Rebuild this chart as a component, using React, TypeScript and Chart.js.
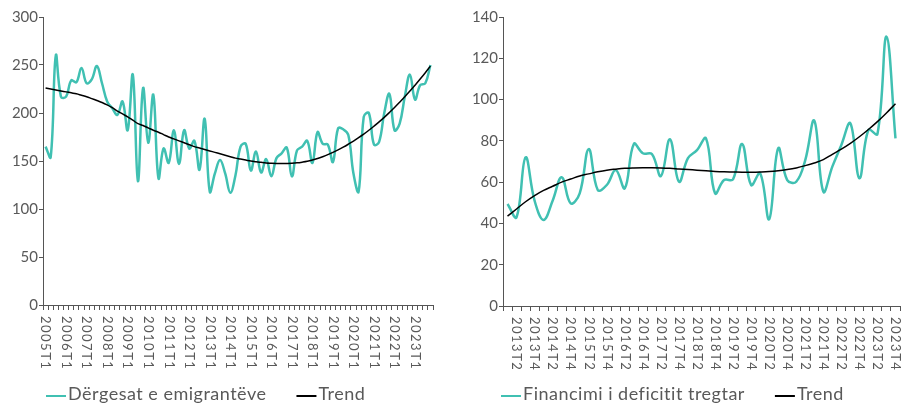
import React, { useEffect, useRef } from 'react';
import { Chart, registerables } from 'chart.js';
Chart.register(...registerables);

const TEAL = '#40c0b2';
const TEXT = '#595959';
const AXIS = '#555555';
const FONT = 'Lato';

// ---- Left chart data ----
const leftYears = [2005, 2006, 2007, 2008, 2009, 2010, 2011, 2012, 2013, 2014, 2015, 2016, 2017, 2018, 2019, 2020, 2021, 2022, 2023];
const leftQuarters = ['T1', 'T2', 'T3', 'T4'];
const leftLabels: string[] = [];
leftYears.forEach((y) => leftQuarters.forEach((q) => leftLabels.push(`${y}${q}`)));

const remittances = [
  165, 154, 260, 217, 217, 234, 232, 247, 231, 235,
  249, 231, 212, 205, 198, 212, 182, 240, 129, 226,
  169, 219, 132, 163, 148, 182, 147, 182, 163, 171,
  141, 194, 118, 137, 151, 137, 117, 135, 165, 168,
  140, 160, 138, 152, 134, 153, 158, 164, 134, 161,
  165, 171, 148, 180, 168, 167, 149, 184, 183, 177,
  137, 118, 196, 200, 167, 170, 200, 220, 182, 189,
  217, 240, 214, 229, 231, 250,
];
const remittancesTrend = [
  226, 225, 224, 223, 222, 221, 220, 218.5, 217, 215,
  213, 211, 208.5, 205.5, 202, 199, 196, 192.5, 189, 187,
  184.5, 182, 180, 177.5, 175, 173, 171, 169, 167, 165,
  163.5, 162, 160.5, 159, 157.5, 156, 154.5, 153, 152, 151,
  150, 149.3, 148.6, 148, 147.7, 147.5, 147.4, 147.5, 147.7, 148.1,
  148.8, 149.7, 151, 152.6, 154.5, 156.6, 159, 161.6, 164.4, 167.5,
  170.8, 174.3, 178, 182, 186.3, 190.8, 195.5, 200.5, 205.7, 211.2,
  216.9, 222.8, 229, 235.4, 242, 248.8,
];
const leftTicks = [0, 50, 100, 150, 200, 250, 300];

// ---- Right chart data ----
const rightYears = [2013, 2014, 2015, 2016, 2017, 2018, 2019, 2020, 2021, 2022, 2023];
const rightLabels: string[] = [];
rightYears.forEach((y) => leftQuarters.forEach((q) => rightLabels.push(`${y}${q}`)));

const deficitFinancing = [
  49.4, 43, 72, 51, 41.7, 51, 62.4, 49.7, 54.6, 76,
  56.2, 58.6, 65.9, 57, 78.5, 74, 73.6, 63, 80.8, 60.2,
  71.6, 75.5, 81.2, 54.6, 61, 61.4, 78.5, 58.6, 64.3, 42,
  76.4, 61, 60.2, 70.7, 89.8, 55.4, 67.5, 78, 88.5, 61.9,
  85.3, 83.3, 130.5, 81.2,
];
const deficitTrend = [
  43.5, 47, 50.5, 53.5, 56, 58, 60, 61.5, 63, 64,
  65, 65.8, 66.3, 66.7, 66.9, 67, 67, 66.9, 66.7, 66.4,
  66.1, 65.8, 65.5, 65.2, 65, 64.9, 64.8, 64.8, 64.9, 65.1,
  65.5, 66.1, 66.9, 68, 69.3, 70.9, 73.5, 76, 78.8, 82,
  85.5, 89.3, 93.5, 98,
];
const rightTicks = [0, 20, 40, 60, 80, 100, 120, 140];

function makeXLabelPlugin(show: (label: string) => boolean) {
  return {
    id: 'rotatedXLabels',
    afterDraw(chart: any) {
      const sc = chart.scales.x;
      const ctx = chart.ctx as CanvasRenderingContext2D;
      ctx.save();
      ctx.font = `13px ${FONT}`;
      (ctx as any).letterSpacing = '1.5px';
      ctx.fillStyle = TEXT;
      ctx.textAlign = 'left';
      ctx.textBaseline = 'middle';
      (chart.data.labels as string[]).forEach((l, i) => {
        if (!show(l)) return;
        const x = sc.getPixelForValue(i);
        ctx.save();
        ctx.translate(x, sc.top + 11);
        ctx.rotate(Math.PI / 2);
        ctx.fillText(l, 0, 0);
        ctx.restore();
      });
      ctx.restore();
    },
  };
}

const legendPlugin = {
  id: 'lineLegend',
  afterDraw(chart: any) {
    const ctx = chart.ctx as CanvasRenderingContext2D;
    ctx.save();
    ctx.font = `18px ${FONT}`;
    (ctx as any).letterSpacing = '0.5px';
    ctx.textBaseline = 'alphabetic';
    ctx.textAlign = 'left';
    let x = 46;
    const yText = 400;
    const yLine = 396;
    chart.data.datasets.forEach((ds: any) => {
      ctx.strokeStyle = ds.borderColor;
      ctx.lineWidth = 2;
      ctx.beginPath();
      ctx.moveTo(x, yLine);
      ctx.lineTo(x + 20, yLine);
      ctx.stroke();
      ctx.fillStyle = TEXT;
      ctx.fillText(ds.label, x + 22, yText);
      x += 22 + ctx.measureText(ds.label).width + 30;
    });
    ctx.restore();
  },
};

function buildConfig(opts: {
  labels: string[];
  series: number[];
  trend: number[];
  name: string;
  ticks: number[];
  left: number;
  right: number;
  bottom: number;
  show: (l: string) => boolean;
}): any {
  const { labels, series, trend, name, ticks, left, right, bottom, show } = opts;
  return {
    type: 'line',
    data: {
      labels,
      datasets: [
        { label: name, data: series, borderColor: TEAL, backgroundColor: TEAL, borderWidth: 2.5, pointRadius: 0, tension: 0.4, fill: false, order: 1 },
        { label: 'Trend', data: trend, borderColor: '#000000', backgroundColor: '#000000', borderWidth: 1.5, pointRadius: 0, tension: 0.4, fill: false, order: 0 },
      ],
    },
    options: {
      responsive: false,
      animation: false,
      devicePixelRatio: 1,
      layout: { padding: { left: 0, top: 17, right, bottom: 0 } },
      plugins: { legend: { display: false }, tooltip: { enabled: false } },
      scales: {
        x: {
          type: 'category',
          offset: true,
          grid: { offset: true, drawOnChartArea: false, drawTicks: true, tickLength: 5, color: AXIS },
          border: { color: AXIS, width: 1 },
          ticks: { display: false },
          afterFit: (s: any) => { s.height = bottom; },
        },
        y: {
          min: ticks[0],
          max: ticks[ticks.length - 1],
          afterBuildTicks: (s: any) => { s.ticks = ticks.map((v) => ({ value: v })); },
          ticks: { color: TEXT, font: { family: FONT, size: 15 }, padding: 1 },
          grid: { drawOnChartArea: false, tickLength: 4, color: AXIS },
          border: { dash: [4, 3], color: AXIS, width: 1 },
          afterFit: (s: any) => { s.width = left; },
        },
      },
    },
    plugins: [makeXLabelPlugin(show), legendPlugin],
  };
}

export default function App() {
  const leftRef = useRef<HTMLCanvasElement>(null);
  const rightRef = useRef<HTMLCanvasElement>(null);

  useEffect(() => {
    const c1 = new Chart(leftRef.current!, buildConfig({
      labels: leftLabels,
      series: remittances,
      trend: remittancesTrend,
      name: 'Dërgesat e emigrantëve',
      ticks: leftTicks,
      left: 43,
      right: 22,
      bottom: 106,
      show: (l) => l.endsWith('T1'),
    }));
    const c2 = new Chart(rightRef.current!, buildConfig({
      labels: rightLabels,
      series: deficitFinancing,
      trend: deficitTrend,
      name: 'Financimi i deficitit tregtar',
      ticks: rightTicks,
      left: 48,
      right: 9,
      bottom: 105,
      show: (l) => l.endsWith('T2') || l.endsWith('T4'),
    }));
    return () => { c1.destroy(); c2.destroy(); };
  }, []);

  return (
    <div style={{ position: 'absolute', left: 0, top: 0, width: 909, height: 411, background: '#fff' }}>
      <canvas ref={leftRef} width={455} height={411} style={{ position: 'absolute', left: 0, top: 0 }} />
      <canvas ref={rightRef} width={454} height={411} style={{ position: 'absolute', left: 455, top: 0 }} />
    </div>
  );
}
